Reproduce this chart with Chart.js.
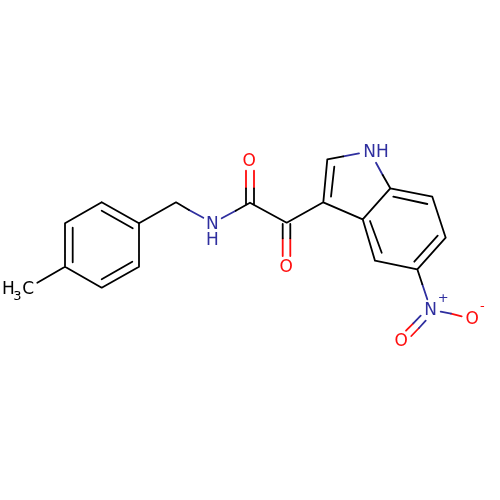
<!DOCTYPE html>
<html>
<head>
<meta charset="utf-8">
<script src="https://cdn.jsdelivr.net/npm/chart.js@4"></script>
<style>
html, body { margin: 0; padding: 0; background: #fff; }
canvas { display: block; }
</style>
</head>
<body>
<canvas id="mol" width="500" height="500"></canvas>
<script>
// bond paths, null breaks the line
var blackX = [101.7, 139, 139, 101.7, 65, 65, 101.7, null,
	101.7, 132.7, null, 72.7, 72.7, null, 101.7, 132.3, null,
	65, 37.3, null,
	139, 176, 189, null,
	235.7, 250, 286.7, 323.3, 327.3, 343.3, null,
	246, 246, null, 254, 254, null,
	282.7, 282.7, null, 290.3, 290.3, null,
	331, 334.3, null,
	323.3, 362.7, 390.3, 432.3, 445.7, 417.3, 375, 362.7, null,
	382.7, 390.3, null,
	393.3, 427.3, null, 370, 381.7, null, 414.3, 437.7, null,
	417.3, 422.3];
var blackY = [202.3, 223.3, 266.7, 287.7, 266.7, 223.3, 202.3, null,
	210.7, 228.3, null, 227.7, 262.3, null, 279.3, 261.7, null,
	266.7, 282.7, null,
	223.3, 202.3, 210, null,
	210.7, 202.7, 222.7, 202.3, 159.3, 156.3, null,
	205, 188.3, null, 205, 188.3, null,
	224, 238.3, null, 224, 238.3, null,
	196.7, 166.7, null,
	202.3, 219.3, 188.3, 196.7, 237.7, 269.3, 260.7, 219.3, null,
	175, 188.3, null,
	196.7, 204, null, 221, 252.7, null, 261.7, 235.7, null,
	269.3, 284.3];
var blueX = [189, 203.3, null, 221.7, 235.7, null, 343.3, 359, null, 376, 382.7, null,
	422.3, 427.3, null, 440.7, 451, null, 420.7, 413.3, null, 425.7, 419];
var blueY = [210, 217.7, null, 218.3, 210.7, null, 156.3, 153.3, null, 162.7, 175, null,
	284.3, 299.3, null, 311.7, 313.7, null, 315.7, 323.3, null, 320.7, 328];
var redX = [246, 246, null, 254, 254, null, 282.7, 282.7, null, 290.3, 290.3, null,
	451, 461.7, null, 413.3, 406, null, 419, 411.3];
var redY = [188.3, 170.7, null, 188.3, 170.7, null, 238.3, 256, null, 238.3, 256, null,
	313.7, 316.3, null, 323.3, 330.7, null, 328, 336];

// atom labels
var labelText = ["H", "3", "C", "N", "H", "O", "O", "NH", "N", "+", "O", "-", "O"];
var labelX = [8.3, 17.3, 28.3, 212.3, 212.3, 249.3, 286.3, 376, 430.7, 443.3, 472.3, 482.3, 401.3];
var labelY = [289.3, 296.7, 289.3, 225, 241, 161.7, 267.3, 152.3, 311, 298.3, 319.3, 306.7, 342];
var labelColor = ["#000", "#000", "#000", "#2f2f9f", "#2f2f9f", "#ff0d0d", "#ff0d0d", "#2f2f9f", "#2f2f9f", "#2f2f9f", "#ff0d0d", "#ff0d0d", "#ff0d0d"];
var labelSize = [17, 13, 17, 17, 17, 17, 17, 17, 17, 13, 17, 13, 17];

function points(xs, ys) {
	return xs.map(function (x, i) { return { x: x, y: ys[i] }; });
}

function bondSet(xs, ys, color) {
	return {
		data: points(xs, ys),
		showLine: true,
		spanGaps: false,
		borderColor: color,
		borderWidth: 1.8,
		borderCapStyle: "round",
		borderJoinStyle: "round",
		pointRadius: 0,
		tension: 0
	};
}

var atomLabels = {
	id: "atomLabels",
	afterDatasetsDraw: function (chart) {
		var ctx = chart.ctx;
		ctx.save();
		ctx.textAlign = "center";
		ctx.textBaseline = "middle";
		labelText.forEach(function (t, i) {
			ctx.font = labelSize[i] + 'px "DejaVu Sans"';
			ctx.fillStyle = labelColor[i];
			ctx.fillText(t, chart.scales.x.getPixelForValue(labelX[i]), chart.scales.y.getPixelForValue(labelY[i]));
		});
		ctx.restore();
	}
};

new Chart(document.getElementById("mol"), {
	type: "scatter",
	data: {
		datasets: [
			bondSet(blackX, blackY, "#000"),
			bondSet(blueX, blueY, "#2f2f9f"),
			bondSet(redX, redY, "#ff0d0d")
		]
	},
	options: {
		responsive: false,
		animation: false,
		devicePixelRatio: 1,
		layout: { padding: 0 },
		plugins: { legend: { display: false }, tooltip: { enabled: false } },
		scales: {
			x: { type: "linear", min: 0, max: 500, display: false },
			y: { type: "linear", min: 0, max: 500, reverse: true, display: false }
		}
	},
	plugins: [atomLabels]
});
</script>
</body>
</html>
